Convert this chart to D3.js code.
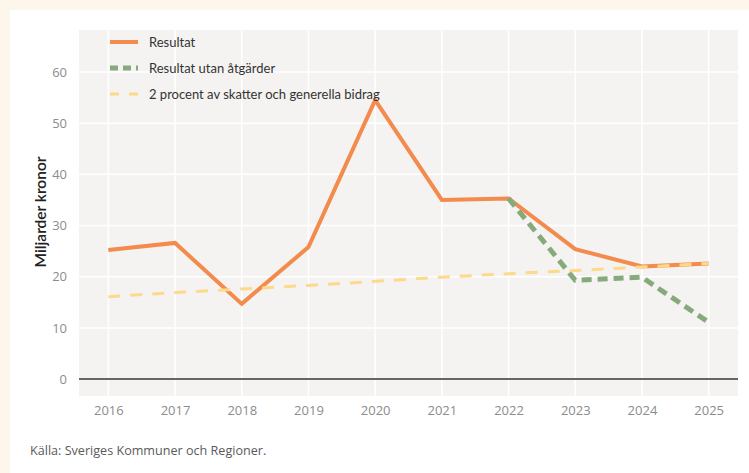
<!DOCTYPE html>
<html>
<head>
<meta charset="utf-8">
<script src="https://cdn.jsdelivr.net/npm/d3@7"></script>
<style>
  body { margin: 0; background: #fdf6ea; }
  svg { display: block; }
</style>
</head>
<body>
<div id="chart"></div>
<script>
const years = [2016, 2017, 2018, 2019, 2020, 2021, 2022, 2023, 2024, 2025];
const resultat = [25.2, 26.6, 14.7, 25.8, 54.5, 35.0, 35.3, 25.4, 22.0, 22.6];
const utanYears = [2022, 2023, 2024, 2025];
const utanAtgarder = [35.3, 19.3, 19.9, 11.1];
const tvaProcent = [16.1, 16.9, 17.6, 18.3, 19.1, 19.9, 20.6, 21.2, 21.9, 22.6];
const yTicks = [0, 10, 20, 30, 40, 50, 60];
const legendLabels = ["Resultat", "Resultat utan åtgärder", "2 procent av skatter och generella bidrag"];

const W = 749, H = 473;
const svg = d3.select("#chart").append("svg").attr("width", W).attr("height", H);

// white panel on the cream page
svg.append("rect").attr("x", 0).attr("y", 0).attr("width", W).attr("height", H).attr("fill", "#fdf6ea");
svg.append("rect").attr("x", 10).attr("y", 10).attr("width", W - 10).attr("height", H - 10).attr("fill", "#ffffff");

const plot = { left: 79, right: 738, top: 30, bottom: 396 };

let x = d3.scalePoint().domain(years).range([plot.left, plot.right]).padding(0.44);
let y = d3.scaleLinear().domain([-3.3, 68.2]).range([plot.bottom, plot.top]);

svg.append("rect")
  .attr("x", plot.left).attr("y", plot.top)
  .attr("width", plot.right - plot.left).attr("height", plot.bottom - plot.top)
  .attr("fill", "#f4f3f1");

// grid
svg.append("g").selectAll("line").data(yTicks).enter().append("line")
  .attr("x1", plot.left).attr("x2", plot.right)
  .attr("y1", d => y(d)).attr("y2", d => y(d))
  .attr("stroke", "#ffffff").attr("stroke-width", 1.5);
svg.append("g").selectAll("line").data(years).enter().append("line")
  .attr("x1", d => x(d)).attr("x2", d => x(d))
  .attr("y1", plot.top).attr("y2", plot.bottom)
  .attr("stroke", "#ffffff").attr("stroke-width", 1.5);

// zero line
svg.append("line")
  .attr("x1", plot.left).attr("x2", plot.right)
  .attr("y1", y(0)).attr("y2", y(0))
  .attr("stroke", "#666666").attr("stroke-width", 2);

// axes
let yAxis = d3.axisLeft(y).tickValues(yTicks).tickSize(0).tickPadding(12);
svg.append("g").attr("transform", `translate(${plot.left},0)`).call(yAxis)
  .call(g => g.select(".domain").remove())
  .selectAll("text")
  .style("font-family", "'Open Sans', sans-serif").style("font-size", "13px").attr("fill", "#8c8c8c");

let xAxis = d3.axisBottom(x).tickSize(0).tickPadding(10).tickFormat(d3.format("d"));
svg.append("g").attr("transform", `translate(0,${plot.bottom})`).call(xAxis)
  .call(g => g.select(".domain").remove())
  .selectAll("text")
  .style("font-family", "'Open Sans', sans-serif").style("font-size", "13px").attr("fill", "#8c8c8c");

svg.append("text")
  .attr("transform", `translate(41,212) rotate(-90)`)
  .attr("text-anchor", "middle").attr("dy", "0.35em")
  .style("font-family", "Lato, sans-serif").style("font-size", "15.5px").style("font-weight", 600)
  .attr("fill", "#222")
  .text("Miljarder kronor");

// lines
let line = d3.line().x(d => x(d[0])).y(d => y(d[1]));

svg.append("path").datum(years.map((yr, i) => [yr, resultat[i]]))
  .attr("d", line).attr("fill", "none")
  .attr("stroke", "#f28b4c").attr("stroke-width", 4).attr("stroke-linejoin", "miter");

svg.append("path").datum(utanYears.map((yr, i) => [yr, utanAtgarder[i]]))
  .attr("d", line).attr("fill", "none")
  .attr("stroke", "#86aa7b").attr("stroke-width", 5).attr("stroke-dasharray", "10,6");

svg.append("path").datum(years.map((yr, i) => [yr, tvaProcent[i]]))
  .attr("d", line).attr("fill", "none")
  .attr("stroke", "#fdd98c").attr("stroke-width", 3).attr("stroke-dasharray", "12,10");

// legend
const legendStyles = [
  { stroke: "#f28b4c", width: 4, dash: null },
  { stroke: "#86aa7b", width: 5, dash: "8,5" },
  { stroke: "#fdd98c", width: 3, dash: "9,10" }
];
let legend = svg.append("g");
legendLabels.forEach((lab, i) => {
  let gy = 42 + i * 26;
  legend.append("line")
    .attr("x1", 110).attr("x2", 138).attr("y1", gy).attr("y2", gy)
    .attr("stroke", legendStyles[i].stroke).attr("stroke-width", legendStyles[i].width)
    .attr("stroke-dasharray", legendStyles[i].dash);
  legend.append("text")
    .attr("x", 149).attr("y", gy).attr("dy", "0.35em")
    .style("font-family", "Lato, sans-serif").style("font-size", "13px")
    .attr("fill", "#333")
    .text(lab);
});

svg.append("text")
  .attr("x", 30).attr("y", 455)
  .style("font-family", "'Open Sans', sans-serif").style("font-size", "12.6px")
  .attr("fill", "#5a5a5a")
  .text("Källa: Sveriges Kommuner och Regioner.");
</script>
</body>
</html>
